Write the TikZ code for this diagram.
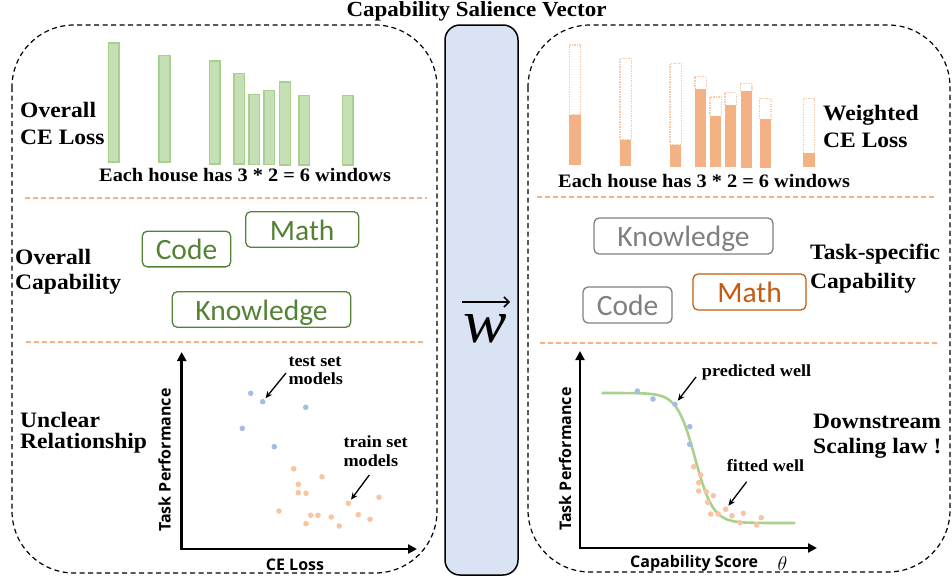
\RequirePackage{fix-cm}
\documentclass[tikz,border=0pt]{standalone}
\usepackage{fontspec}
\setmainfont{Liberation Serif}[FakeStretch=1.07]
\newfontfamily\boxfont{Carlito}
\newfontfamily\axfont{Open Sans}
\usetikzlibrary{arrows.meta}
\definecolor{gfill}{HTML}{C5E0B4}
\definecolor{gline}{HTML}{A9D18E}
\definecolor{ofill}{HTML}{F4B183}
\definecolor{oline}{HTML}{F8CBAD}
\definecolor{sepc}{HTML}{F4B183}
\definecolor{vfill}{HTML}{DAE3F3}
\definecolor{dgreen}{HTML}{548235}
\definecolor{dgray}{HTML}{7F7F7F}
\definecolor{dorange}{HTML}{C55A11}
\definecolor{bdotc}{HTML}{A4BDE5}
\definecolor{odotc}{HTML}{F8C4A2}
\definecolor{curvec}{HTML}{A9D18E}
\tikzset{
  outer/.style={draw=black, line width=1.2pt, dash pattern=on 5pt off 3.5pt, rounded corners=62pt},
  sepline/.style={draw=sepc, line width=1.4pt, dash pattern=on 5pt off 3pt},
  vecbox/.style={draw=black, fill=vfill, line width=1.5pt, rounded corners=15pt, inner sep=0pt},
  gbar/.style={fill=gfill, draw=gline, line width=1.1pt},
  obox/.style={draw=oline, line width=1.2pt, dash pattern=on 1.4pt off 1.1pt},
  lab/.style={font=\fontsize{22}{26}\selectfont\bfseries, inner sep=0pt, anchor=base west},
  note/.style={font=\fontsize{17}{20}\selectfont\bfseries, inner sep=0pt, anchor=base west},
  capt/.style={font=\fontsize{19}{22}\selectfont\bfseries, inner sep=0pt, anchor=base west},
  axl/.style={font=\axfont\bfseries\fontsize{16}{18}\selectfont, inner sep=0pt},
  capbox/.style={draw=#1, text=#1, rounded corners=5pt, line width=1.3pt,
    font=\boxfont\fontsize{29.5}{30}\selectfont, inner sep=0pt,
    text height=21pt, text depth=0pt},
  bdot/.style={circle, fill=bdotc, inner sep=0pt, minimum size=5.6pt},
  odot/.style={circle, fill=odotc, inner sep=0pt, minimum size=5.6pt},
  axis/.style={line width=2.5pt, {Triangle[length=9pt,width=9pt]}-{Triangle[length=9pt,width=9pt]}},
  ptr/.style={-{Stealth[length=7pt,width=6pt]}, line width=1.3pt, shorten >=1.5pt},
  vecarrow/.style={-{Straight Barb[length=5pt,width=10pt]}, line width=1.5pt},
}
\begin{document}
\begin{tikzpicture}[x=1pt,y=-1pt]
\useasboundingbox (0,0) rectangle (952,581);
% title
\node[font=\fontsize{21.5}{24}\selectfont\bfseries, inner sep=0pt, anchor=base] (title) at (476.5,16) {Capability Salience Vector};
% outer boxes
\draw[outer] (12,25) rectangle (437,573);
\draw[outer] (528,25) rectangle (950,572);
% separators
\draw[sepline] (25,198) -- (427,198);
\draw[sepline] (26,342) -- (426,342);
\draw[sepline] (537,197) -- (936,197);
\draw[sepline] (540,343) -- (938,343);
% center vector box
\node[vecbox, minimum width=73pt, minimum height=550pt] (vec) at (481.5,300) {};
\node[font=\fontsize{61}{61}\selectfont\itshape, inner sep=0pt, anchor=base] (w) at (485.5,342) {w};
\coordinate (va) at (461.5,302);
\coordinate (vb) at (510,302);
\draw[vecarrow] (va) -- (vb);
% ---------- top left bars
\foreach \a/\b/\t/\bt in {108.3/119/43/162, 159/170/55.7/162, 209.3/220/61/164, 234/244.7/73.7/164,
  249/259.7/94.3/164.5, 264/274.7/90.3/164.5, 279.7/290.3/82/165, 299/309.7/95.3/165, 342.3/353/95.3/165}
  \filldraw[gbar] (\a,\t) rectangle (\b,\bt);
\node[lab] (l1a) at (20,117) {Overall};
\node[lab] (l1b) at (20,144) {CE Loss};
\node[capt] (l1c) at (99,181.5) {Each house has 3 * 2 = 6 windows};
% ---------- top right bars
\foreach \a/\b/\t/\m/\bt in {569.3/580.7/45/115/165, 620/631.3/58.3/140/165.7, 670/681.3/63.3/145/167,
  695/706.3/76.7/89.3/167, 710/721.3/97/116.3/167, 725/736.3/92.7/105.3/167, 740.7/752/83.7/91.3/168,
  759.7/771/98.3/119.3/168, 803.3/814.7/98.3/153.3/167}
  {\draw[obox] (\a,\m) rectangle (\b,\t);
   \fill[ofill] (\a,\m) rectangle (\b,\bt);}
\node[lab] (r1a) at (823,120.5) {Weighted};
\node[lab] (r1b) at (823,147.5) {CE Loss};
\node[capt] (r1c) at (558,187) {Each house has 3 * 2 = 6 windows};
% ---------- middle left
\node[lab] (l2a) at (15,264) {Overall};
\node[lab] (l2b) at (15,289.5) {Capability};
\node[capbox=dgreen, minimum width=88.4pt, minimum height=35.7pt] (lcode) at (186.5,249) {Code};
\node[capbox=dgreen, minimum width=113pt, minimum height=35.6pt] (lmath) at (302.2,229.5) {Math};
\node[capbox=dgreen, minimum width=178.4pt, minimum height=35.6pt] (lknow) at (261.5,309.5) {Knowledge};
% ---------- middle right
\node[lab] (r2a) at (810,259.5) {Task-specific};
\node[lab] (r2b) at (810,288) {Capability};
\node[capbox=dgray, minimum width=179pt, minimum height=36pt] (rknow) at (683.5,236) {Knowledge};
\node[capbox=dgray, minimum width=89pt, minimum height=36pt] (rcode) at (627.5,305) {Code};
\node[capbox=dorange, minimum width=113pt, minimum height=36pt] (rmath) at (749.5,292) {Math};
% ---------- bottom left plot
\node[lab] (l3a) at (20,427) {Unclear};
\node[lab] (l3b) at (20,448) {Relationship};
\coordinate (ltop) at (181.7,352);
\coordinate (lright) at (417,549);
\draw[axis] (ltop) |- (lright);
\node[axl, rotate=90] (lyl) at (164.5,460) {Task Performance};
\node[axl, anchor=base] (lxl) at (295,570) {CE Loss};
\foreach \x/\y [count=\i] in {250.7/393.3, 262.7/401.7, 305.7/407.3, 242.3/428.3, 274.3/446.7}
  \node[bdot] (lb\i) at (\x,\y) {};
\foreach \x/\y [count=\i] in {293.7/468.7, 322/476.7, 298.3/484.3, 298.3/492.7, 306/493.3, 348.3/503.3,
  379/497.3, 279/511, 310.7/515.3, 318/515.3, 331.3/517, 358.3/514.7, 370/519.3, 306/523.7, 339.3/526}
  \node[odot] (lo\i) at (\x,\y) {};
\node[note] (lt1) at (288.3,366) {test set};
\node[note] (lt2) at (288.3,384.3) {models};
\node[note] (lt3) at (343.3,447.3) {train set};
\node[note] (lt4) at (343.3,466) {models};
\coordinate (lta) at (286,373);
\coordinate (ltb) at (369.3,475);
\draw[ptr] (lta) -- (lb2);
\draw[ptr] (ltb) -- (lo6);
% ---------- bottom right plot
\node[lab] (r3a) at (813,428) {Downstream};
\node[lab] (r3b) at (813,453) {Scaling law !};
\coordinate (rtop) at (580,351);
\coordinate (rright) at (817,548);
\draw[axis] (rtop) |- (rright);
\node[axl, rotate=90] (ryl) at (565,459) {Task Performance};
\node[axl, anchor=base west] (rxl) at (630,567) {Capability Score};
\node[font=\fontsize{20}{22}\selectfont, inner sep=0pt, anchor=base] (theta) at (782.5,570) {$\theta$};
\draw[curvec, line width=2.6pt] plot[domain=601.7:795, samples=120, smooth]
  (\x, {393+130/(1+exp(max(min(-(\x-695)/9,9),-9)))});
\foreach \x/\y [count=\i] in {637.3/391, 653/399, 675/404.3, 689.7/426.7, 689.7/444.3}
  \node[bdot] (rb\i) at (\x,\y) {};
\foreach \x/\y [count=\i] in {693.7/466.7, 700.7/475, 698.7/482.7, 698.7/491, 706.3/491.7, 713.3/495.7,
  707.7/502.3, 725.7/509.3, 710.7/514, 718.3/514, 732/515.7, 743.3/513.3, 761.3/517.7, 740/522.7, 756.7/525}
  \node[odot] (ro\i) at (\x,\y) {};
\node[note] (rt1) at (701.7,376) {predicted well};
\node[note] (rt2) at (726.7,471.7) {fitted well};
\coordinate (rta) at (696,377);
\coordinate (rtb) at (746.7,481.7);
\draw[ptr] (rta) -- (rb3);
\draw[ptr] (rtb) -- (ro8);
\end{tikzpicture}
\end{document}
